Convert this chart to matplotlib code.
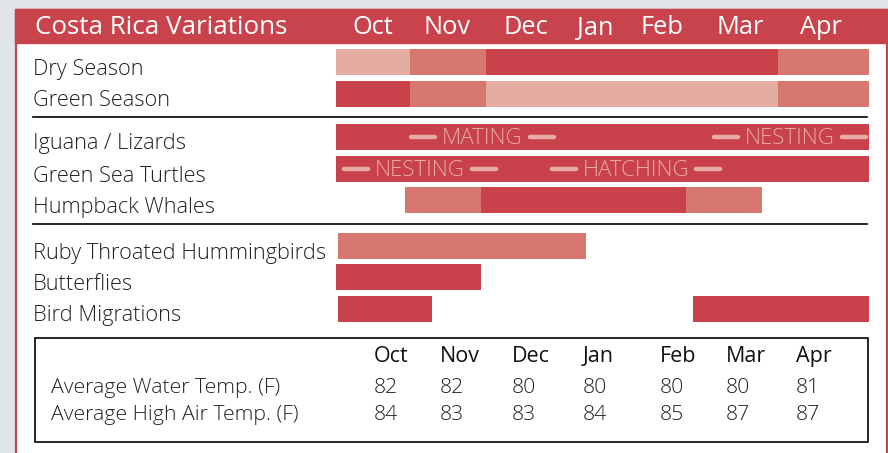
import matplotlib
matplotlib.use("Agg")
import matplotlib.pyplot as plt
from matplotlib.patches import Rectangle
from matplotlib.lines import Line2D

# ---------------- data ----------------
months = ["Oct", "Nov", "Dec", "Jan", "Feb", "Mar", "Apr"]
row_labels = ["Dry Season", "Green Season", "Iguana / Lizards", "Green Sea Turtles",
              "Humpback Whales", "Ruby Throated Hummingbirds", "Butterflies", "Bird Migrations"]
# segments: (start, end, level) in months from start of Oct (0) to end of Apr (7)
dry_season = [(0, 0.97, "low"), (0.97, 1.97, "mid"), (1.97, 5.8, "high"), (5.8, 7, "mid")]
green_season = [(0, 0.97, "high"), (0.97, 1.97, "mid"), (1.97, 5.8, "low"), (5.8, 7, "mid")]
iguana = [(0, 7, "high")]
turtles = [(0, 7, "high")]
whales = [(0.9, 1.9, "mid"), (1.9, 4.6, "high"), (4.6, 5.6, "mid")]
hummingbirds = [(0.02, 3.28, "mid")]
butterflies = [(0, 1.9, "high")]
bird_migrations = [(0.02, 1.26, "high"), (4.69, 7, "high")]
row_segments = [dry_season, green_season, iguana, turtles, whales,
                hummingbirds, butterflies, bird_migrations]
iguana_phases = ["MATING", "NESTING"]
turtle_phases = ["NESTING", "HATCHING"]
table_rows = ["Average Water Temp. (F)", "Average High Air Temp. (F)"]
water_temp = [82, 82, 80, 80, 80, 80, 81]
air_temp = [84, 83, 83, 84, 85, 87, 87]
title = "Costa Rica Variations"

# ---------------- style / layout ----------------
W, H = 888, 453
RED = "#c9424b"
colors = {"high": "#c9414b", "mid": "#d67870", "low": "#e5aca3"}
PHASE_COLOR = "#e8aba6"
FONT = "Open Sans"

fig = plt.figure(figsize=(W / 100, H / 100), dpi=100)
bg = fig.add_axes([0, 0, 1, 1])
bg.set_xlim(0, W)
bg.set_ylim(H, 0)
bg.axis("off")

bg.add_patch(Rectangle((0, 0), W, H, color="#e0e5e8", zorder=0))
bg.add_patch(Rectangle((16, 10), 870.5, 460, facecolor="white", edgecolor=RED, lw=1.6, zorder=1))
bg.add_patch(Rectangle((15, 9), 873, 34, color="#c9434c", zorder=2))

bg.text(35, 34.5, title, color="white", fontsize=18.7, family=FONT, va="baseline", zorder=3)
header_x = [373, 447, 526, 595, 662, 740, 821]
for m, x in zip(months, header_x):
    bg.text(x, 34.5, m, color="white", fontsize=18.3, family=FONT, ha="center", va="baseline", zorder=3)

# separators
for y in (116.5, 223.5):
    bg.add_line(Line2D([33, 867], [y, y], color="black", lw=1.2, zorder=3))

# row labels
row_tops = [49, 81, 124, 156, 187, 233, 264, 296]
BAR_H = 26
for lab, top in zip(row_labels, row_tops):
    bg.text(33, top + BAR_H - 0.5, lab, fontsize=15.7, family=FONT, fontweight="light",
            color="#222222", va="baseline", zorder=3)

# bars axes (x in months)
ax = fig.add_axes([336 / W, 0, 533 / W, 1])
ax.set_xlim(0, 7)
ax.set_ylim(H, 0)
ax.axis("off")
ax.patch.set_alpha(0)
for segs, top in zip(row_segments, row_tops):
    for s, e, lvl in segs:
        ax.barh(top + BAR_H / 2, e - s, left=s, height=BAR_H, color=colors[lvl], linewidth=0)

# phase labels with dashes
phase_pos = [(iguana_phases, [1.92, 5.96], row_tops[2]),
             (turtle_phases, [1.10, 3.94], row_tops[3])]
fig.canvas.draw()
renderer = fig.canvas.get_renderer()
inv = ax.transData.inverted()
for names, xs, top in phase_pos:
    yc = top + BAR_H / 2
    for name, x in zip(names, xs):
        t = ax.text(x, yc + 1, name, color=PHASE_COLOR, fontsize=16, family=FONT,
                    fontweight="light", ha="center", va="center")
        bb = t.get_window_extent(renderer)
        gap, dl = 7, 24
        for x0, x1 in ((bb.x0 - gap - dl, bb.x0 - gap), (bb.x1 + gap, bb.x1 + gap + dl)):
            d0 = inv.transform((x0, 0))[0]
            d1 = inv.transform((x1, 0))[0]
            ax.add_line(Line2D([d0, d1], [yc, yc], color=PHASE_COLOR, lw=3.2,
                               solid_capstyle="round"))

# table
bg.add_patch(Rectangle((34.5, 337.5), 833.5, 104.5, facecolor="none", edgecolor="black", lw=1.2, zorder=3))
col_x = [374, 440, 512, 583, 660, 726, 796]
for m, x in zip(months, col_x):
    bg.text(x, 362, m, fontsize=15.5, family=FONT, color="#111111", va="baseline", zorder=4)
for lab, vals, yb in zip(table_rows, [water_temp, air_temp], [393, 420]):
    bg.text(51, yb, lab, fontsize=15.3, family=FONT, fontweight="light", color="#222222",
            va="baseline", zorder=4)
    for v, x in zip(vals, col_x):
        bg.text(x, yb, str(v), fontsize=15.3, family=FONT, fontweight="light", color="#222222",
                va="baseline", zorder=4)

fig.savefig("out.png", dpi=100)
